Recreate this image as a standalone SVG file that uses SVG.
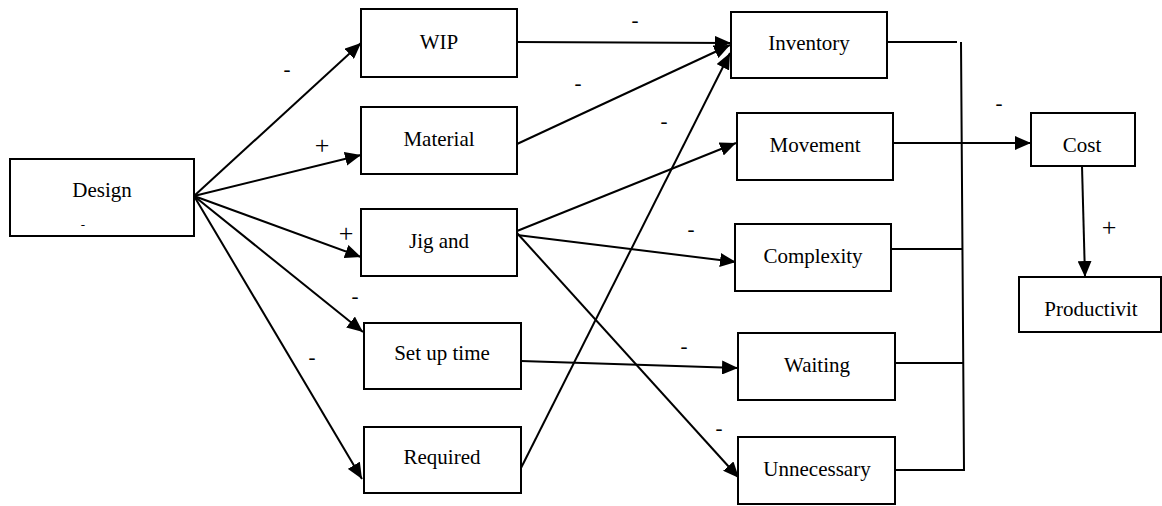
<svg xmlns="http://www.w3.org/2000/svg" width="1162" height="506" viewBox="0 0 1162 506">
  <style>
    .box { fill: #fff; stroke: #000; stroke-width: 2; }
    .lbl { font-family: "Liberation Serif", "Times New Roman", serif; font-size: 21px; fill: #000; text-anchor: middle; }
    .sign { font-family: "Liberation Serif", "Times New Roman", serif; font-size: 21px; fill: #000; text-anchor: middle; }
    .plus { font-size: 26px; }
    .link { fill: none; stroke: #000; stroke-width: 2; }
    .arrow { marker-end: url(#head); }
  </style>
  <defs>
    <marker id="head" markerUnits="userSpaceOnUse" markerWidth="16" markerHeight="14" refX="16" refY="7" orient="auto">
      <path d="M0,0 L16,7 L0,14 Z" fill="#000"/>
    </marker>
  </defs>
  <rect width="1162" height="506" fill="#fff"/>

  <g id="connectors">
    <!-- from Design -->
    <line class="link arrow" x1="194" y1="196" x2="361" y2="43"/>
    <line class="link arrow" x1="194" y1="196" x2="361" y2="155"/>
    <line class="link arrow" x1="194" y1="196" x2="361" y2="257"/>
    <line class="link arrow" x1="194" y1="196" x2="363" y2="332"/>
    <line class="link arrow" x1="194" y1="196" x2="362" y2="479"/>
    <!-- into Inventory -->
    <line class="link arrow" x1="517" y1="42" x2="731" y2="43"/>
    <line class="link arrow" x1="517" y1="144" x2="730" y2="45"/>
    <line class="link arrow" x1="521" y1="468" x2="730" y2="53"/>
    <!-- from Jig and -->
    <line class="link arrow" x1="517" y1="231" x2="736" y2="143"/>
    <line class="link arrow" x1="517" y1="235" x2="736" y2="262"/>
    <line class="link arrow" x1="517" y1="233" x2="739" y2="478"/>
    <!-- Set up time to Waiting -->
    <line class="link arrow" x1="521" y1="361" x2="738" y2="368"/>
    <!-- collector bus -->
    <line class="link" x1="887" y1="42" x2="957" y2="42"/>
    <polyline class="link" points="961,42 964,470 895,470"/>
    <line class="link" x1="891" y1="249" x2="962" y2="249"/>
    <line class="link" x1="895" y1="363" x2="963" y2="363"/>
    <!-- Movement to Cost -->
    <line class="link arrow" x1="893" y1="143" x2="1031" y2="143"/>
    <!-- Cost to Productivity -->
    <line class="link arrow" x1="1082" y1="166" x2="1085" y2="277"/>
  </g>

  <g id="signs">
    <text class="sign" x="287" y="76">-</text>
    <text class="sign plus" x="322" y="154">+</text>
    <text class="sign plus" x="346" y="242">+</text>
    <text class="sign" x="355" y="303">-</text>
    <text class="sign" x="312" y="364">-</text>
    <text class="sign" x="635" y="27">-</text>
    <text class="sign" x="578" y="90">-</text>
    <text class="sign" x="664" y="128">-</text>
    <text class="sign" x="691" y="236">-</text>
    <text class="sign" x="684" y="353">-</text>
    <text class="sign" x="719" y="435">-</text>
    <text class="sign" x="999" y="110">-</text>
    <text class="sign plus" x="1109" y="236">+</text>
  </g>

  <g id="design">
    <rect class="box" x="10" y="159" width="184" height="77"/>
    <text class="lbl" x="102" y="197">Design</text>
    <text class="sign" x="83" y="229" style="font-size:13px">-</text>
  </g>
  <g id="wip">
    <rect class="box" x="361" y="9" width="156" height="68"/>
    <text class="lbl" x="439" y="49">WIP</text>
  </g>
  <g id="material">
    <rect class="box" x="361" y="107" width="156" height="67"/>
    <text class="lbl" x="439" y="146">Material</text>
  </g>
  <g id="jig">
    <rect class="box" x="361" y="209" width="156" height="67"/>
    <text class="lbl" x="439" y="248">Jig and</text>
  </g>
  <g id="setup">
    <rect class="box" x="364" y="323" width="157" height="66"/>
    <text class="lbl" x="442" y="360">Set up time</text>
  </g>
  <g id="required">
    <rect class="box" x="364" y="427" width="157" height="66"/>
    <text class="lbl" x="442" y="464">Required</text>
  </g>
  <g id="inventory">
    <rect class="box" x="731" y="12" width="156" height="66"/>
    <text class="lbl" x="809" y="50">Inventory</text>
  </g>
  <g id="movement">
    <rect class="box" x="737" y="113" width="156" height="67"/>
    <text class="lbl" x="815" y="152">Movement</text>
  </g>
  <g id="complexity">
    <rect class="box" x="735" y="224" width="156" height="67"/>
    <text class="lbl" x="813" y="263">Complexity</text>
  </g>
  <g id="waiting">
    <rect class="box" x="738" y="333" width="157" height="67"/>
    <text class="lbl" x="817" y="372">Waiting</text>
  </g>
  <g id="unnecessary">
    <rect class="box" x="738" y="437" width="157" height="67"/>
    <text class="lbl" x="817" y="476">Unnecessary</text>
  </g>
  <g id="cost">
    <rect class="box" x="1031" y="113" width="104" height="53"/>
    <text class="lbl" x="1082" y="152">Cost</text>
  </g>
  <g id="productivity">
    <rect class="box" x="1019" y="277" width="142" height="55"/>
    <text class="lbl" x="1091" y="316">Productivit</text>
  </g>
</svg>
